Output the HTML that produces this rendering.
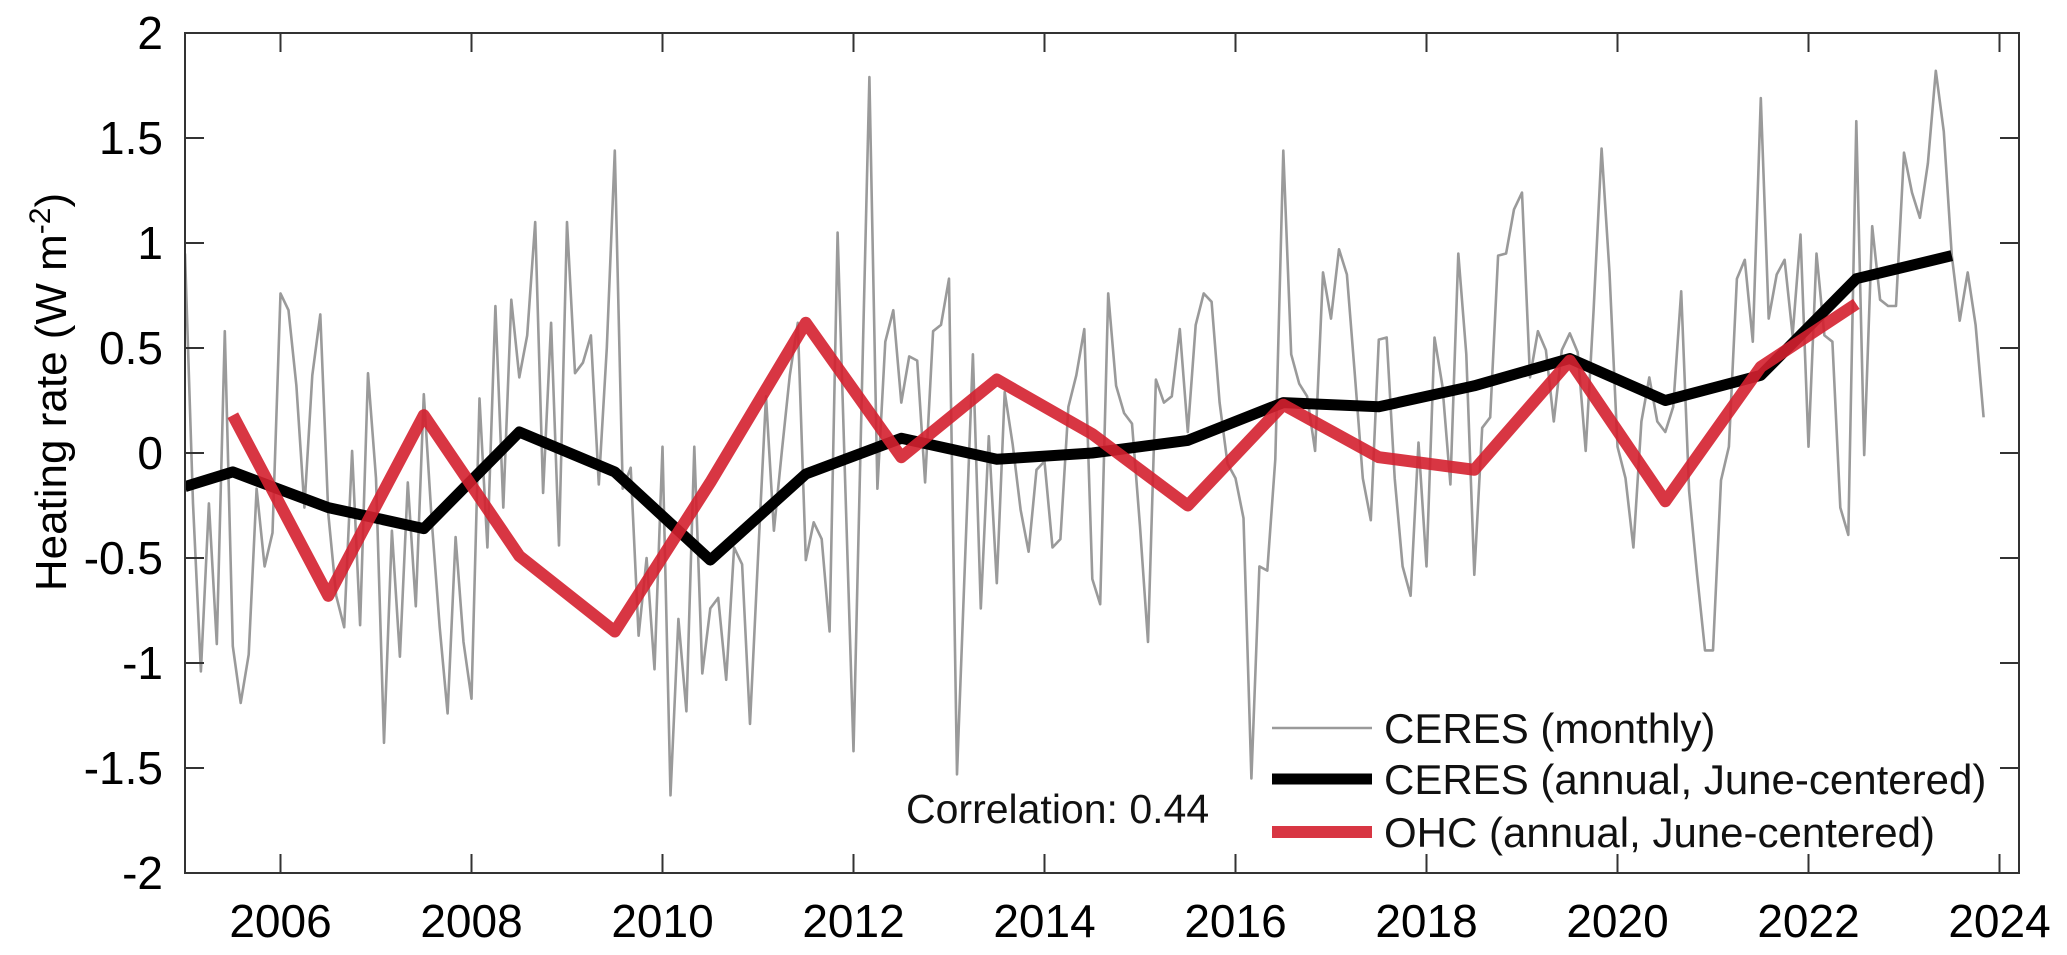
<!DOCTYPE html>
<html>
<head>
<meta charset="utf-8">
<style>
  html,body{margin:0;padding:0;background:#fff;}
  svg{display:block;font-family:"Liberation Sans",Arial,sans-serif;}
</style>
</head>
<body>
<svg id="chart" width="2067" height="955" viewBox="0 0 2067 955" xmlns="http://www.w3.org/2000/svg"></svg>
<script>
// ---- data ----
const monthlyStart = 2005.0;
const ceresMonthly = [
 0.95,-0.24,-1.04,-0.24,-0.91,0.58,-0.92,-1.19,-0.96,-0.17,-0.54,-0.38,
 0.76,0.68,0.32,-0.26,0.37,0.66,-0.29,-0.68,-0.83,0.01,-0.82,0.38,
 -0.12,-1.38,-0.37,-0.97,-0.14,-0.73,0.28,-0.32,-0.83,-1.24,-0.40,-0.90,
 -1.17,0.26,-0.45,0.70,-0.26,0.73,0.36,0.56,1.10,-0.19,0.62,-0.44,
 1.10,0.38,0.43,0.56,-0.15,0.50,1.44,-0.17,-0.07,-0.87,-0.50,-1.03,
 0.03,-1.63,-0.79,-1.23,0.03,-1.05,-0.74,-0.69,-1.08,-0.45,-0.53,-1.29,
 -0.50,0.27,-0.37,0.01,0.37,0.62,-0.51,-0.33,-0.41,-0.85,1.05,-0.19,
 -1.42,0.22,1.79,-0.17,0.53,0.68,0.24,0.46,0.44,-0.14,0.58,0.61,
 0.83,-1.53,-0.53,0.47,-0.74,0.08,-0.62,0.29,0.04,-0.27,-0.47,-0.08,
 -0.04,-0.45,-0.41,0.22,0.37,0.59,-0.60,-0.72,0.76,0.32,0.19,0.14,
 -0.35,-0.90,0.35,0.24,0.27,0.59,0.10,0.61,0.76,0.72,0.24,-0.05,
 -0.12,-0.31,-1.55,-0.54,-0.56,-0.03,1.44,0.47,0.33,0.27,0.01,0.86,
 0.64,0.97,0.85,0.37,-0.12,-0.32,0.54,0.55,-0.12,-0.54,-0.68,0.05,
 -0.54,0.55,0.32,-0.15,0.95,0.47,-0.58,0.12,0.17,0.94,0.95,1.16,
 1.24,0.36,0.58,0.49,0.15,0.49,0.57,0.48,0.01,0.68,1.45,0.86,
 0.03,-0.12,-0.45,0.15,0.36,0.15,0.10,0.22,0.77,-0.18,-0.58,-0.94,
 -0.94,-0.13,0.03,0.83,0.92,0.53,1.69,0.64,0.85,0.92,0.56,1.04,
 0.03,0.95,0.56,0.53,-0.26,-0.39,1.58,-0.01,1.08,0.73,0.70,0.70,
 1.43,1.24,1.12,1.38,1.82,1.53,0.94,0.63,0.86,0.61,0.17
];
const ceresAnnualYears = [2005.0,2005.5,2006.5,2007.5,2008.5,2009.5,2010.5,2011.5,2012.5,2013.5,2014.5,2015.5,2016.5,2017.5,2018.5,2019.5,2020.5,2021.5,2022.5,2023.5];
const ceresAnnual = [-0.16,-0.09,-0.26,-0.36,0.10,-0.09,-0.51,-0.10,0.07,-0.03,0.00,0.06,0.24,0.22,0.32,0.45,0.25,0.37,0.83,0.94];
const ohcYears = [2005.5,2006.5,2007.5,2008.5,2009.5,2010.5,2011.5,2012.5,2013.5,2014.5,2015.5,2016.5,2017.5,2018.5,2019.5,2020.5,2021.5,2022.5];
const ohcAnnual = [0.18,-0.68,0.18,-0.49,-0.85,-0.14,0.62,-0.02,0.35,0.09,-0.25,0.23,-0.02,-0.08,0.44,-0.23,0.41,0.71];
const xTicks = [2006,2008,2010,2012,2014,2016,2018,2020,2022,2024];
const yTicks = [-2,-1.5,-1,-0.5,0,0.5,1,1.5,2];
const yTickLabels = ["-2","-1.5","-1","-0.5","0","0.5","1","1.5","2"];

// ---- axes ----
const L=185, R=2019, T=33, B=873;
const X0=2005.0, PXY=95.5;
const x = t => L + (t - X0) * PXY;
const y = v => B - (v + 2) * (B - T) / 4;

const NS="http://www.w3.org/2000/svg";
const svg=document.getElementById('chart');
function mk(tag, attrs, parent){
  const e=document.createElementNS(NS,tag);
  for(const k in attrs) e.setAttribute(k, attrs[k]);
  (parent||svg).appendChild(e);
  return e;
}

// clip
const defs=mk('defs',{});
const cp=mk('clipPath',{id:'plotclip'},defs);
mk('rect',{x:L,y:T,width:R-L,height:B-T},cp);

const plot=mk('g',{'clip-path':'url(#plotclip)'});



// monthly
let d='';
ceresMonthly.forEach((v,i)=>{ d+=(i?'L':'M')+x(monthlyStart+i/12).toFixed(1)+','+y(v).toFixed(1); });
const gl=mk('path',{d:d,fill:'none',stroke:'#9a9a9a','stroke-width':2.6,'stroke-linejoin':'round'},plot);



// annual CERES
d='';
ceresAnnual.forEach((v,i)=>{ d+=(i?'L':'M')+x(ceresAnnualYears[i]).toFixed(1)+','+y(v).toFixed(1); });
const bl=mk('path',{d:d,fill:'none',stroke:'#000','stroke-width':11,'stroke-linejoin':'round'},plot);



// OHC
d='';
ohcAnnual.forEach((v,i)=>{ d+=(i?'L':'M')+x(ohcYears[i]).toFixed(1)+','+y(v).toFixed(1); });
const rl=mk('path',{d:d,fill:'none',stroke:'#d4202f','stroke-opacity':0.9,'stroke-width':12,'stroke-linejoin':'round'},plot);



// frame
const fr=mk('rect',{x:L,y:T,width:R-L,height:B-T,fill:'none',stroke:'#333','stroke-width':2});



// ticks
const TL=19;
xTicks.forEach(t=>{
  const xx=x(t);
  const tk=mk('path',{d:`M${xx},${B}V${B-TL}M${xx},${T}V${T+TL}`,stroke:'#333','stroke-width':2});
  
  
  const lb=mk('text',{x:xx,y:937,'text-anchor':'middle','font-size':46,fill:'#000'});
  lb.textContent=String(t);
  
  
});
yTicks.forEach((v,i)=>{
  const yy=y(v);
  const tk=mk('path',{d:`M${L},${yy}H${L+TL}M${R},${yy}H${R-TL}`,stroke:'#333','stroke-width':2});
  
  
  const lb=mk('text',{x:163,y:yy+16,'text-anchor':'end','font-size':46,fill:'#000'});
  lb.textContent=yTickLabels[i];
  
  
});
</script>

<script>
// static labels
(function(){
  const NS="http://www.w3.org/2000/svg";
  const svg=document.getElementById('chart');
  function mk(tag, attrs){const e=document.createElementNS(NS,tag);for(const k in attrs)e.setAttribute(k,attrs[k]);svg.appendChild(e);return e;}
  const t=mk('text',{transform:'translate(66,392) rotate(-90)','text-anchor':'middle','font-size':44,fill:'#000'});
  
  
  t.innerHTML='Heating rate (W m<tspan dy="-16" font-size="30">-2</tspan><tspan dy="16">)</tspan>';

  const c=mk('text',{x:906,y:823,'font-size':41,fill:'#111'});
  c.textContent='Correlation: 0.44';
  
  

  const items=[['CERES (monthly)','#9a9a9a',2.6,728,'legend-entry-ceres-monthly'],
               ['CERES (annual, June-centered)','#000',11,779,'legend-entry-ceres-annual'],
               ['OHC (annual, June-centered)','#d4202f',12,832,'legend-entry-ohc-annual']];
  items.forEach(it=>{
    const g=mk('g',{});
    
    
    const ln=document.createElementNS(NS,'line');
    ln.setAttribute('x1',1272);ln.setAttribute('x2',1372);ln.setAttribute('y1',it[3]);ln.setAttribute('y2',it[3]);
    ln.setAttribute('stroke',it[1]);ln.setAttribute('stroke-width',it[2]);
    if(it[1]==='#d4202f') ln.setAttribute('stroke-opacity',0.9);
    g.appendChild(ln);
    const tx=document.createElementNS(NS,'text');
    tx.setAttribute('x',1384);tx.setAttribute('y',it[3]+15);tx.setAttribute('font-size',42);tx.setAttribute('fill','#111');
    tx.textContent=it[0];
    g.appendChild(tx);
  });
})();
</script>
</body>
</html>
